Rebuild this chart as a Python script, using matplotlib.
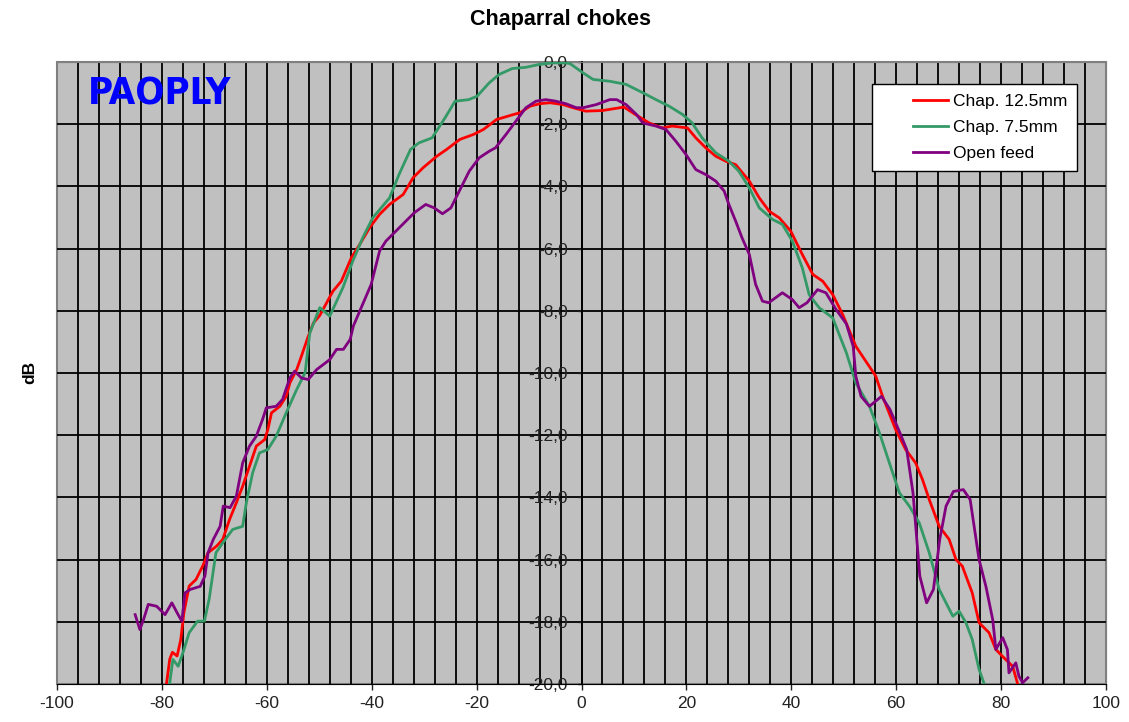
import matplotlib.pyplot as plt
import numpy as np
from matplotlib import font_manager
from matplotlib.legend_handler import HandlerLine2D
from matplotlib.ticker import FuncFormatter

plt.rcParams['font.family'] = ['Liberation Sans', 'DejaVu Sans']
plt.rcParams['axes.unicode_minus'] = False

# angle (deg) and level (dB)
red_x = [-79.1, -78.5, -78.0, -77.1, -76.4, -75.8, -74.8, -73.5, -72.2, -71.2,
         -69.6, -68.4, -67.1, -65.8, -64.6, -63.3, -62.0, -60.4, -59.8, -59.1,
         -57.5, -56.3, -55.6, -54.3, -53.4, -52.1, -51.1, -49.9, -47.4, -45.8,
         -43.9, -42.3, -40.4, -38.5, -36.6, -34.0, -32.1, -30.2, -27.6, -25.7,
         -23.2, -20.6, -18.7, -16.2, -13.0, -11.7, -9.8, -7.9, -6.0, -3.5,
         -1.6, 0.8, 4.0, 8.1, 10.3, 12.9, 15.4, 17.3, 20.2, 21.8,
         23.7, 25.6, 27.5, 29.4, 32.0, 33.9, 35.8, 37.7, 39.9, 42.1,
         44.1, 46.0, 47.9, 49.8, 52.3, 56.1, 57.4, 59.9, 61.8, 63.7,
         65.0, 66.3, 68.2, 70.1, 71.4, 72.6, 74.5, 75.8, 77.7, 79.0,
         80.2, 82.2, 83.1]
red_y = [-19.96, -19.2, -18.98, -19.1, -18.57, -17.7, -16.85, -16.64, -16.2, -15.78,
         -15.57, -15.35, -14.71, -14.17, -13.64, -13.0, -12.35, -12.14, -11.82, -11.28,
         -11.07, -10.75, -10.32, -9.89, -9.46, -8.82, -8.39, -8.15, -7.37, -7.05,
         -6.30, -5.87, -5.33, -4.90, -4.58, -4.26, -3.72, -3.40, -3.03, -2.81,
         -2.49, -2.33, -2.17, -1.85, -1.69, -1.63, -1.42, -1.34, -1.31, -1.37,
         -1.47, -1.58, -1.56, -1.45, -1.69, -1.96, -2.12, -2.06, -2.12, -2.44,
         -2.76, -3.03, -3.19, -3.30, -3.83, -4.37, -4.80, -5.01, -5.44, -6.19,
         -6.83, -7.05, -7.48, -8.12, -9.14, -10.1, -10.75, -11.82, -12.46, -12.89,
         -13.42, -14.07, -14.93, -15.35, -16.0, -16.21, -17.07, -18.03, -18.35, -18.89,
         -19.1, -19.43, -19.96]

green_x = [-78.5, -77.9, -76.9, -76.0, -74.8, -73.2, -71.9, -71.0, -69.7, -68.4,
           -66.5, -64.6, -63.9, -62.7, -61.4, -59.8, -58.2, -56.3, -54.3, -52.7,
           -51.8, -49.9, -48.0, -45.5, -43.6, -41.7, -39.8, -38.2, -36.6, -34.8,
           -32.6, -31.0, -28.5, -26.0, -24.1, -21.5, -19.9, -17.6, -15.7, -13.2,
           -10.6, -8.1, -5.6, -3.0, -2.2, 0.3, 2.2, 5.4, 8.5, 11.7,
           14.2, 16.7, 19.3, 21.1, 23.0, 25.6, 28.1, 30.0, 32.0, 33.9,
           36.4, 38.3, 40.2, 42.1, 43.4, 45.3, 47.9, 50.5, 52.3, 54.9,
           56.8, 58.7, 60.6, 62.5, 64.4, 66.3, 68.2, 69.5, 70.8, 72.0,
           73.3, 74.5, 75.8, 76.7]
green_y = [-19.96, -19.21, -19.43, -19.0, -18.35, -17.98, -17.98, -17.28, -15.78, -15.46,
           -15.03, -14.93, -14.17, -13.21, -12.57, -12.46, -12.03, -11.28, -10.53, -9.99,
           -8.71, -7.90, -8.17, -7.26, -6.40, -5.65, -5.01, -4.69, -4.37, -3.62,
           -2.81, -2.60, -2.44, -1.79, -1.26, -1.21, -1.10, -0.67, -0.40, -0.21,
           -0.17, -0.08, -0.03, -0.03, -0.05, -0.35, -0.56, -0.62, -0.72, -0.99,
           -1.21, -1.42, -1.69, -1.96, -2.44, -2.92, -3.19, -3.51, -4.05, -4.69,
           -5.06, -5.22, -5.76, -6.62, -7.48, -7.90, -8.23, -9.35, -10.32, -11.07,
           -11.92, -12.89, -13.85, -14.28, -14.82, -15.78, -16.96, -17.39, -17.82, -17.66,
           -18.03, -18.57, -19.53, -19.96]

purple_x = [-85.1, -84.2, -83.5, -82.6, -81.0, -79.4, -78.1, -77.1, -76.2, -75.6,
            -74.6, -72.7, -71.8, -71.2, -70.2, -68.9, -68.3, -67.0, -65.8, -64.6,
            -63.3, -62.0, -60.8, -60.1, -58.2, -57.0, -55.6, -54.7, -53.4, -52.1,
            -50.5, -48.0, -46.7, -45.4, -44.1, -43.5, -42.0, -40.1, -38.5, -37.3,
            -35.4, -33.5, -31.9, -29.7, -28.1, -26.5, -24.9, -23.3, -21.4, -19.5,
            -17.6, -16.4, -14.4, -12.5, -10.6, -8.7, -6.8, -4.9, -3.0, -1.0,
            0.3, 2.8, 5.4, 6.7, 8.5, 10.5, 11.7, 14.2, 16.1, 18.0,
            19.9, 21.8, 23.7, 25.6, 27.2, 28.1, 29.4, 30.6, 32.0, 33.2,
            34.5, 35.7, 38.3, 40.2, 41.5, 43.0, 45.0, 46.6, 48.5, 50.5,
            51.8, 52.3, 53.3, 54.9, 57.2, 58.8, 60.7, 62.0, 63.2, 64.5,
            65.8, 67.1, 68.3, 69.5, 70.9, 72.8, 74.1, 75.8, 77.1, 78.4,
            79.0, 80.3, 81.2, 81.5, 82.8, 83.4, 84.1, 85.1]
purple_y = [-17.77, -18.25, -17.93, -17.44, -17.50, -17.77, -17.39, -17.71, -17.98, -17.07,
            -16.96, -16.86, -16.53, -15.78, -15.35, -14.93, -14.28, -14.33, -13.96, -12.89,
            -12.35, -12.03, -11.49, -11.12, -11.07, -10.85, -10.16, -9.94, -10.16, -10.21,
            -9.89, -9.57, -9.24, -9.24, -8.92, -8.49, -7.90, -7.15, -6.08, -5.76,
            -5.44, -5.12, -4.85, -4.58, -4.69, -4.88, -4.69, -4.15, -3.51, -3.08,
            -2.87, -2.76, -2.33, -1.90, -1.47, -1.26, -1.21, -1.26, -1.34, -1.47,
            -1.47, -1.37, -1.21, -1.21, -1.37, -1.69, -1.96, -2.06, -2.17, -2.55,
            -2.97, -3.46, -3.62, -3.83, -4.15, -4.58, -5.12, -5.65, -6.19, -7.15,
            -7.69, -7.74, -7.42, -7.64, -7.90, -7.74, -7.32, -7.42, -7.95, -8.42,
            -9.14, -10.1, -10.75, -11.07, -10.75, -11.17, -11.92, -12.46, -13.85, -16.53,
            -17.39, -16.96, -15.35, -14.28, -13.81, -13.75, -14.07, -16.0, -16.86, -17.93,
            -18.89, -18.51, -18.89, -19.64, -19.32, -19.75, -19.96, -19.8]

x_ticks = [-100, -80, -60, -40, -20, 0, 20, 40, 60, 80, 100]
y_ticks = [0, -2, -4, -6, -8, -10, -12, -14, -16, -18, -20]
x_grid = np.arange(-96, 97, 4)
y_grid = np.arange(-18, 0, 2)


# legend line drawn only in the right part of the handle box (excel look)
class RightLine(HandlerLine2D):
    def get_xdata(self, legend, xdescent, ydescent, width, height, fontsize):
        xd = np.array([-xdescent + width * 0.47, -xdescent + width])
        return xd, xd


# pick a narrow bold face for the logo if one is installed
logo_font = None
for f in font_manager.fontManager.ttflist:
    narrow = ('Narrow' in f.name or 'Condensed' in f.name or 'Impact' in f.name
              or f.stretch in ('condensed', 'semi-condensed', 'extra-condensed'))
    if narrow and f.weight in ('bold', 700, 'heavy', 800, 900, 'black'):
        logo_font = f.fname
        break

fig = plt.figure(figsize=(11.29, 7.22), dpi=100)
ax = fig.add_axes([57 / 1129, 1 - 684 / 722, 1049 / 1129, 622 / 722])
ax.set_facecolor('#c0c0c0')

for gx in x_grid:
    ax.axvline(gx, color='black', lw=1.3, zorder=1)
for gy in y_grid:
    ax.axhline(gy, color='black', lw=1.3, zorder=1)

ax.plot(red_x, red_y, color='#ff0000', lw=2, label='Chap. 12.5mm', zorder=3)
ax.plot(green_x, green_y, color='#339966', lw=2, label='Chap. 7.5mm', zorder=3)
ax.plot(purple_x, purple_y, color='#800080', lw=2, label='Open feed', zorder=3)

ax.set_xlim(-100, 100)
ax.set_ylim(-20, 0)
ax.set_xticks(x_ticks)
ax.set_yticks(y_ticks)
ax.yaxis.set_major_formatter(FuncFormatter(lambda v, p: ('%.1f' % v).replace('.', ',')))

ax.spines['left'].set_position(('data', 0))
ax.spines['left'].set_color('black')
ax.spines['left'].set_linewidth(1.3)
ax.spines['bottom'].set_color('black')
ax.spines['top'].set_color('#808080')
ax.spines['right'].set_color('#808080')
ax.patch.set_edgecolor('#808080')
ax.patch.set_linewidth(1.5)

ax.tick_params(axis='x', direction='out', length=4, width=1, pad=5,
               labelsize=12.5, colors='#222222')
ax.tick_params(axis='y', direction='out', length=3, width=1, pad=7,
               labelsize=12.5, colors='#222222')

fig.text(560 / 1129, 1 - 20 / 722, 'Chaparral chokes', ha='center', va='center',
         fontsize=15.5, fontweight='bold')
fig.text(30 / 1129, 1 - 372 / 722, 'dB', rotation=90, ha='center', va='center',
         fontsize=12.5, fontweight='bold')

if logo_font:
    ax.text(0.098, 0.947, 'PAOPLY', transform=ax.transAxes, ha='center', va='center',
            color='#0000ff', fontproperties=font_manager.FontProperties(
                fname=logo_font, size=27.5), zorder=4)
else:
    ax.text(0.098, 0.947, 'PAOPLY', transform=ax.transAxes, ha='center', va='center',
            color='#0000ff', fontsize=24, fontweight='bold', zorder=4)

leg = ax.legend(loc='upper right', bbox_to_anchor=(1077 / 1129, 1 - 84 / 722),
                bbox_transform=fig.transFigure, borderaxespad=0, fontsize=12.5,
                handlelength=3.8, handletextpad=0.3, labelspacing=0.64,
                borderpad=0.55, fancybox=False, framealpha=1,
                handler_map={plt.Line2D: RightLine()})
leg.get_frame().set_edgecolor('black')
leg.get_frame().set_linewidth(1)
leg.set_zorder(5)

fig.savefig('out.png', dpi=100)
